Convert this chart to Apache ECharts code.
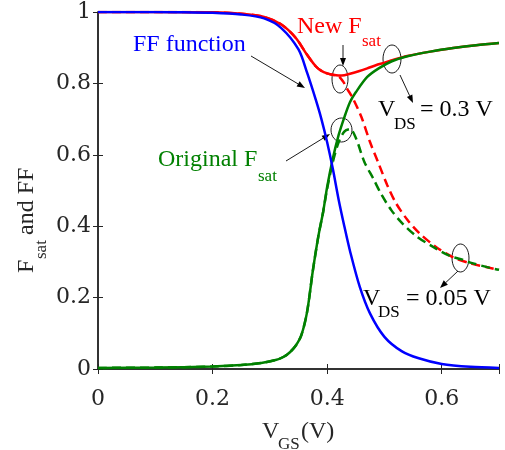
<!DOCTYPE html>
<html>
<head>
<meta charset="utf-8">
<script src="https://cdn.jsdelivr.net/npm/echarts@6/dist/echarts.min.js"></script>
<style>
  html, body { margin: 0; padding: 0; background: #fff; }
  #chart { width: 505px; height: 450px; }
</style>
</head>
<body>
<div id="chart"></div>
<script>
// Gate voltage samples (V) and curve values read for each trace
const ffVgs = [0, 0.05, 0.1, 0.15, 0.2, 0.25, 0.29, 0.32, 0.35, 0.365, 0.38, 0.39, 0.40, 0.41, 0.42, 0.43, 0.44, 0.457, 0.475, 0.50, 0.53, 0.56, 0.60, 0.65, 0.70];
const ffVal = [1.0, 1.0, 1.0, 0.999, 0.998, 0.993, 0.982, 0.955, 0.895, 0.83, 0.755, 0.70, 0.635, 0.56, 0.475, 0.40, 0.33, 0.23, 0.155, 0.09, 0.05, 0.03, 0.014, 0.006, 0.003];

// Original F_sat, V_DS = 0.3 V (solid green)
const origHiVgs = [0, 0.1, 0.2, 0.25, 0.285, 0.31, 0.325, 0.335, 0.345, 0.355, 0.365, 0.375, 0.385, 0.393, 0.40, 0.41, 0.42, 0.43, 0.44, 0.45, 0.47, 0.49, 0.513, 0.54, 0.58, 0.62, 0.66, 0.70];
const origHiVal = [0.003, 0.004, 0.007, 0.011, 0.017, 0.025, 0.035, 0.047, 0.065, 0.095, 0.16, 0.275, 0.375, 0.44, 0.51, 0.59, 0.655, 0.705, 0.748, 0.775, 0.818, 0.842, 0.862, 0.876, 0.889, 0.899, 0.907, 0.913];

// New F_sat, V_DS = 0.3 V (solid red)
const newHiVgs = [0, 0.1, 0.2, 0.25, 0.29, 0.32, 0.345, 0.365, 0.38, 0.39, 0.40, 0.41, 0.42, 0.43, 0.44, 0.455, 0.47, 0.485, 0.50, 0.515, 0.54, 0.58, 0.62, 0.66, 0.70];
const newHiVal = [1.0, 1.0, 0.999, 0.995, 0.986, 0.965, 0.928, 0.88, 0.848, 0.835, 0.828, 0.824, 0.822, 0.823, 0.827, 0.834, 0.842, 0.851, 0.858, 0.866, 0.877, 0.889, 0.899, 0.907, 0.913];

// New F_sat, V_DS = 0.05 V (dashed red)
const newLoVgs = [0, 0.1, 0.2, 0.25, 0.29, 0.32, 0.345, 0.365, 0.38, 0.39, 0.40, 0.41, 0.42, 0.428, 0.435, 0.445, 0.46, 0.475, 0.49, 0.505, 0.52, 0.54, 0.56, 0.59, 0.62, 0.65, 0.685, 0.70];
const newLoVal = [1.0, 1.0, 0.999, 0.995, 0.986, 0.965, 0.928, 0.88, 0.848, 0.835, 0.828, 0.824, 0.82, 0.805, 0.785, 0.758, 0.705, 0.635, 0.575, 0.515, 0.465, 0.418, 0.382, 0.342, 0.313, 0.296, 0.283, 0.278];

// Original F_sat, V_DS = 0.05 V (dashed green)
const origLoVgs = [0, 0.1, 0.2, 0.25, 0.285, 0.31, 0.325, 0.335, 0.345, 0.355, 0.365, 0.375, 0.385, 0.393, 0.40, 0.41, 0.42, 0.43, 0.44, 0.45, 0.465, 0.48, 0.495, 0.512, 0.53, 0.555, 0.585, 0.615, 0.635, 0.65, 0.685, 0.70];
const origLoVal = [0.003, 0.004, 0.007, 0.011, 0.017, 0.025, 0.035, 0.047, 0.065, 0.095, 0.16, 0.275, 0.375, 0.44, 0.505, 0.58, 0.635, 0.665, 0.672, 0.648, 0.58, 0.535, 0.488, 0.445, 0.41, 0.373, 0.342, 0.316, 0.307, 0.298, 0.283, 0.278];

// Axis ticks
const xTicks = [0, 0.2, 0.4, 0.6];
const yTicks = [0, 0.2, 0.4, 0.6, 0.8, 1];

const BLUE = '#0000ff', RED = '#ff0000', GREEN = '#008000';
const FRAME = '#262626';
const TICK_FONT = '"DejaVu Serif", serif';
const TEXT_FONT = '"Liberation Serif", serif';

function pairs(xs, ys) { return xs.map((x, i) => [x, ys[i]]); }

function curve(name, xs, ys, color, dashed) {
  return {
    name, type: 'line', data: pairs(xs, ys),
    showSymbol: false, symbol: 'none', smooth: 0.3,
    lineStyle: { color, width: 2.5, type: dashed ? [9, 5] : 'solid', cap: 'butt' },
    emphasis: { disabled: true }, silent: true
  };
}

function axisCommon(showLabels, fmtTicks, margin) {
  return {
    axisLine: { show: true, lineStyle: { color: FRAME, width: 1.5 } },
    axisTick: { show: true, inside: true, length: 5, lineStyle: { color: FRAME, width: 1 } },
    splitLine: { show: false },
    axisLabel: {
      show: showLabels, fontFamily: TICK_FONT, fontSize: 22, color: FRAME, margin: margin || 8,
      formatter: v => (fmtTicks.some(t => Math.abs(t - v) < 1e-9) ? String(+v.toFixed(1)) : '')
    }
  };
}

// Annotation helpers (text, callout ellipses, arrows)
function txt(x, baseline, s, size, color) {
  return {
    type: 'text', x, y: baseline - 0.3375 * size, silent: true,
    style: { text: s, font: size + 'px ' + TEXT_FONT, fill: color,
             textAlign: 'left', align: 'left', textVerticalAlign: 'middle', verticalAlign: 'middle' }
  };
}
function ring(cx, cy, rx, ry) {
  return { type: 'ellipse', silent: true, shape: { cx, cy, rx, ry },
           style: { fill: null, stroke: '#000', lineWidth: 0.9 } };
}
function arrow(x1, y1, x2, y2) {
  const dx = x2 - x1, dy = y2 - y1, len = Math.hypot(dx, dy);
  const ux = dx / len, uy = dy / len, hl = 8, hw = 3;
  const bx = x2 - ux * hl, by = y2 - uy * hl;
  return [
    { type: 'line', silent: true, shape: { x1, y1, x2: bx, y2: by }, style: { stroke: '#000', lineWidth: 0.9 } },
    { type: 'polygon', silent: true,
      shape: { points: [[x2, y2], [bx - uy * hw, by + ux * hw], [bx + uy * hw, by - ux * hw]] },
      style: { fill: '#000' } }
  ];
}

const annotations = [
  txt(133, 53, 'FF function', 24, BLUE),
  txt(297, 35, 'New F', 24, RED), txt(362, 47, 'sat', 17, RED),
  txt(158, 168, 'Original F', 24, GREEN), txt(258, 182, 'sat', 17, GREEN),
  txt(378, 118, 'V', 24, '#000'), txt(394, 130, 'DS', 17, '#000'), txt(420, 118, '= 0.3 V', 24, '#000'),
  txt(363, 307, 'V', 24, '#000'), txt(378, 318, 'DS', 17, '#000'), txt(406, 307, '= 0.05 V', 24, '#000'),
  // x-axis title
  txt(262, 440, 'V', 24, FRAME), txt(278, 450, 'GS', 17, FRAME), txt(301, 440, '(V)', 24, FRAME),
  // y-axis title, rotated to read bottom-to-top
  { type: 'group', x: 35, y: 273, rotation: Math.PI / 2, silent: true,
    children: [
      txt(0, 0, 'F', 24, FRAME),
      txt(14, 12, 'sat', 17, FRAME),
      txt(38, 0, 'and FF', 24, FRAME)
    ] },
  ring(340, 79, 8, 14), ring(392, 59, 9, 14), ring(341.5, 130, 10.5, 12), ring(460.5, 258, 8.5, 14),
  ...arrow(251, 56, 305, 88),
  ...arrow(343, 45, 343, 66),
  ...arrow(400, 75, 413, 103),
  ...arrow(286, 161, 330, 134),
  ...arrow(458, 271, 440, 288)
];

const chart = echarts.init(document.getElementById('chart'), null, { renderer: 'canvas' });
chart.setOption({
  animation: false,
  backgroundColor: '#fff',
  grid: { left: 98, right: 6, top: 12, bottom: 81, containLabel: false, outerBoundsMode: 'none' },
  xAxis: [
    Object.assign({ type: 'value', min: 0, max: 0.7, interval: 0.2, position: 'bottom' }, axisCommon(true, xTicks, 19)),
    Object.assign({ type: 'value', min: 0, max: 0.7, interval: 0.2, position: 'top' }, axisCommon(false, xTicks))
  ],
  yAxis: [
    Object.assign({ type: 'value', min: 0, max: 1, interval: 0.2, position: 'left' }, axisCommon(true, yTicks, 7)),
    Object.assign({ type: 'value', min: 0, max: 1, interval: 0.2, position: 'right' }, axisCommon(false, yTicks))
  ],
  series: [
    curve('New Fsat 0.3V', newHiVgs, newHiVal, RED, false),
    curve('Original Fsat 0.3V', origHiVgs, origHiVal, GREEN, false),
    curve('New Fsat 0.05V', newLoVgs, newLoVal, RED, true),
    curve('Original Fsat 0.05V', origLoVgs, origLoVal, GREEN, true),
    curve('FF', ffVgs, ffVal, BLUE, false)
  ],
  graphic: { elements: annotations }
});
</script>
</body>
</html>
